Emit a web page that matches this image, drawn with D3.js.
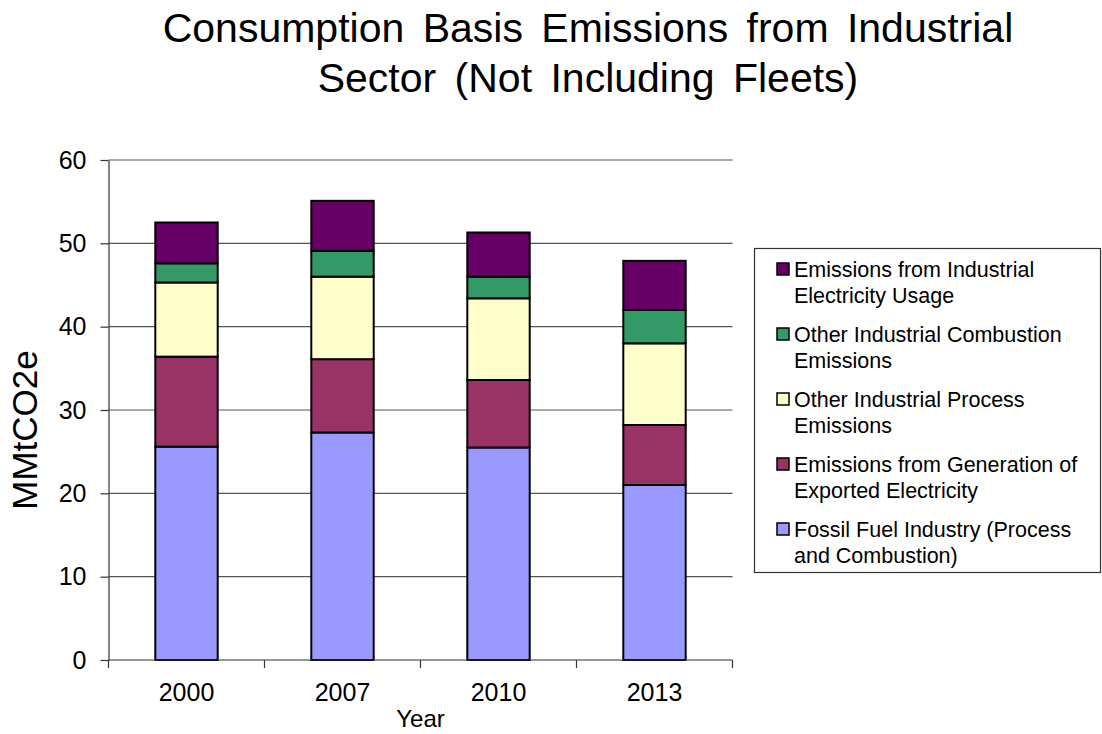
<!DOCTYPE html>
<html>
<head>
<meta charset="utf-8">
<script src="https://cdn.jsdelivr.net/npm/d3@7"></script>
<style>
  html, body { margin: 0; padding: 0; background: #fff; }
  svg { display: block; font-family: "Liberation Sans", Arial, sans-serif; }
</style>
</head>
<body>
<svg id="chart" width="1102" height="734"></svg>
<script>
// Years on the category axis
const years = ["2000", "2007", "2010", "2013"];

// Series values, MMtCO2e, stacked from the bottom up
const fossilFuel      = [25.6, 27.3, 25.5, 21.0];
const exportedElec    = [10.8,  8.8,  8.1,  7.2];
const otherProcess    = [ 8.9,  9.9,  9.8,  9.8];
const otherCombustion = [ 2.3,  3.1,  2.6,  4.0];
const industrialElec  = [ 4.9,  6.0,  5.3,  5.9];

// Series names (bottom to top) and their legend text lines
const seriesKeys = ["fossil", "exported", "process", "combustion", "usage"];
const seriesLabels = [
  ["Fossil Fuel Industry (Process", "and Combustion)"],
  ["Emissions from Generation of", "Exported Electricity"],
  ["Other Industrial Process", "Emissions"],
  ["Other Industrial Combustion", "Emissions"],
  ["Emissions from Industrial", "Electricity Usage"]
];
const seriesColors = ["#9999ff", "#993366", "#ffffcc", "#339966", "#660066"];

// Value axis ticks
const yTicks = [0, 10, 20, 30, 40, 50, 60];

const titleLines = ["Consumption Basis Emissions from Industrial", "Sector (Not Including Fleets)"];

// Rows for d3.stack
const rows = years.map((y, i) => ({
  year: y,
  fossil: fossilFuel[i],
  exported: exportedElec[i],
  process: otherProcess[i],
  combustion: otherCombustion[i],
  usage: industrialElec[i]
}));

const svg = d3.select("#chart");
const plot = { left: 108.5, right: 732.5, top: 160, bottom: 660 };

const x = d3.scaleBand().domain(years).range([plot.left, plot.right]).padding(0);
const y = d3.scaleLinear().domain([0, 60]).range([plot.bottom, plot.top]);
const color = d3.scaleOrdinal().domain(seriesKeys).range(seriesColors);

// Title
svg.append("g")
  .selectAll("text")
  .data(titleLines)
  .join("text")
  .attr("x", 588)
  .attr("y", (d, i) => 42 + i * 50)
  .attr("text-anchor", "middle")
  .attr("font-size", 41)
  .attr("word-spacing", 7)
  .attr("fill", "#000")
  .text(d => d);

// Horizontal gridlines
svg.append("g")
  .selectAll("line")
  .data(yTicks.filter(t => t > 0))
  .join("line")
  .attr("x1", plot.left)
  .attr("x2", plot.right)
  .attr("y1", d => y(d))
  .attr("y2", d => y(d))
  .attr("stroke", "#555")
  .attr("stroke-width", 1.2);

// Stacked bars
const stacked = d3.stack().keys(seriesKeys)(rows);
const barW = x.bandwidth() * 0.4;

svg.append("g")
  .selectAll("g")
  .data(stacked)
  .join("g")
  .attr("fill", d => color(d.key))
  .selectAll("rect")
  .data(d => d)
  .join("rect")
  .attr("x", d => x(d.data.year) + (x.bandwidth() - barW) / 2)
  .attr("y", d => y(d[1]))
  .attr("width", barW)
  .attr("height", d => y(d[0]) - y(d[1]))
  .attr("stroke", "#000")
  .attr("stroke-width", 2);

// Value axis
const yAxis = svg.append("g")
  .attr("transform", `translate(${plot.left},0)`)
  .call(d3.axisLeft(y).tickValues(yTicks).tickSize(8).tickPadding(14).tickSizeOuter(0));
yAxis.select(".domain").attr("stroke", "#333").attr("stroke-width", 1.2);
yAxis.selectAll(".tick line").attr("stroke", "#333").attr("stroke-width", 1.2);
yAxis.selectAll(".tick text")
  .attr("font-size", 25)
  .attr("font-family", "'Liberation Sans', Arial, sans-serif")
  .attr("fill", "#000");

// Category axis: ticks sit on the band boundaries
const xAxisG = svg.append("g").attr("transform", `translate(0,${plot.bottom})`);
xAxisG.append("line")
  .attr("x1", plot.left).attr("x2", plot.right)
  .attr("stroke", "#333").attr("stroke-width", 1.2);
const boundaries = years.map(d => x(d)).concat([x(years[years.length - 1]) + x.bandwidth()]);
xAxisG.selectAll("line.tk")
  .data(boundaries)
  .join("line")
  .attr("class", "tk")
  .attr("x1", d => d).attr("x2", d => d)
  .attr("y1", 0).attr("y2", 8)
  .attr("stroke", "#333").attr("stroke-width", 1.2);
xAxisG.selectAll("text")
  .data(years)
  .join("text")
  .attr("x", d => x(d) + x.bandwidth() / 2)
  .attr("y", 41)
  .attr("text-anchor", "middle")
  .attr("font-size", 25)
  .attr("fill", "#000")
  .text(d => d);

// Axis titles
svg.append("text")
  .attr("x", (plot.left + plot.right) / 2)
  .attr("y", 727)
  .attr("text-anchor", "middle")
  .attr("font-size", 24)
  .text("Year");

svg.append("text")
  .attr("transform", "translate(37,430) rotate(-90)")
  .attr("text-anchor", "middle")
  .attr("font-size", 35)
  .text("MMtCO2e");

// Legend (top series listed first)
const legend = svg.append("g");
legend.append("rect")
  .attr("x", 754.5).attr("y", 248.5)
  .attr("width", 346).attr("height", 324)
  .attr("fill", "#fff")
  .attr("stroke", "#333")
  .attr("stroke-width", 1.2);

const legendOrder = d3.range(seriesKeys.length).reverse();
const items = legend.selectAll("g.item")
  .data(legendOrder)
  .join("g")
  .attr("class", "item")
  .attr("transform", (d, i) => `translate(0,${277 + i * 65})`);

items.append("rect")
  .attr("x", 777).attr("y", -14)
  .attr("width", 12).attr("height", 12)
  .attr("fill", d => seriesColors[d])
  .attr("stroke", "#000")
  .attr("stroke-width", 1.5);

items.append("text")
  .attr("x", 794)
  .attr("font-size", 21.5)
  .attr("fill", "#000")
  .selectAll("tspan")
  .data(d => seriesLabels[d])
  .join("tspan")
  .attr("x", 794)
  .attr("y", (t, j) => j * 26)
  .text(t => t);
</script>
</body>
</html>
